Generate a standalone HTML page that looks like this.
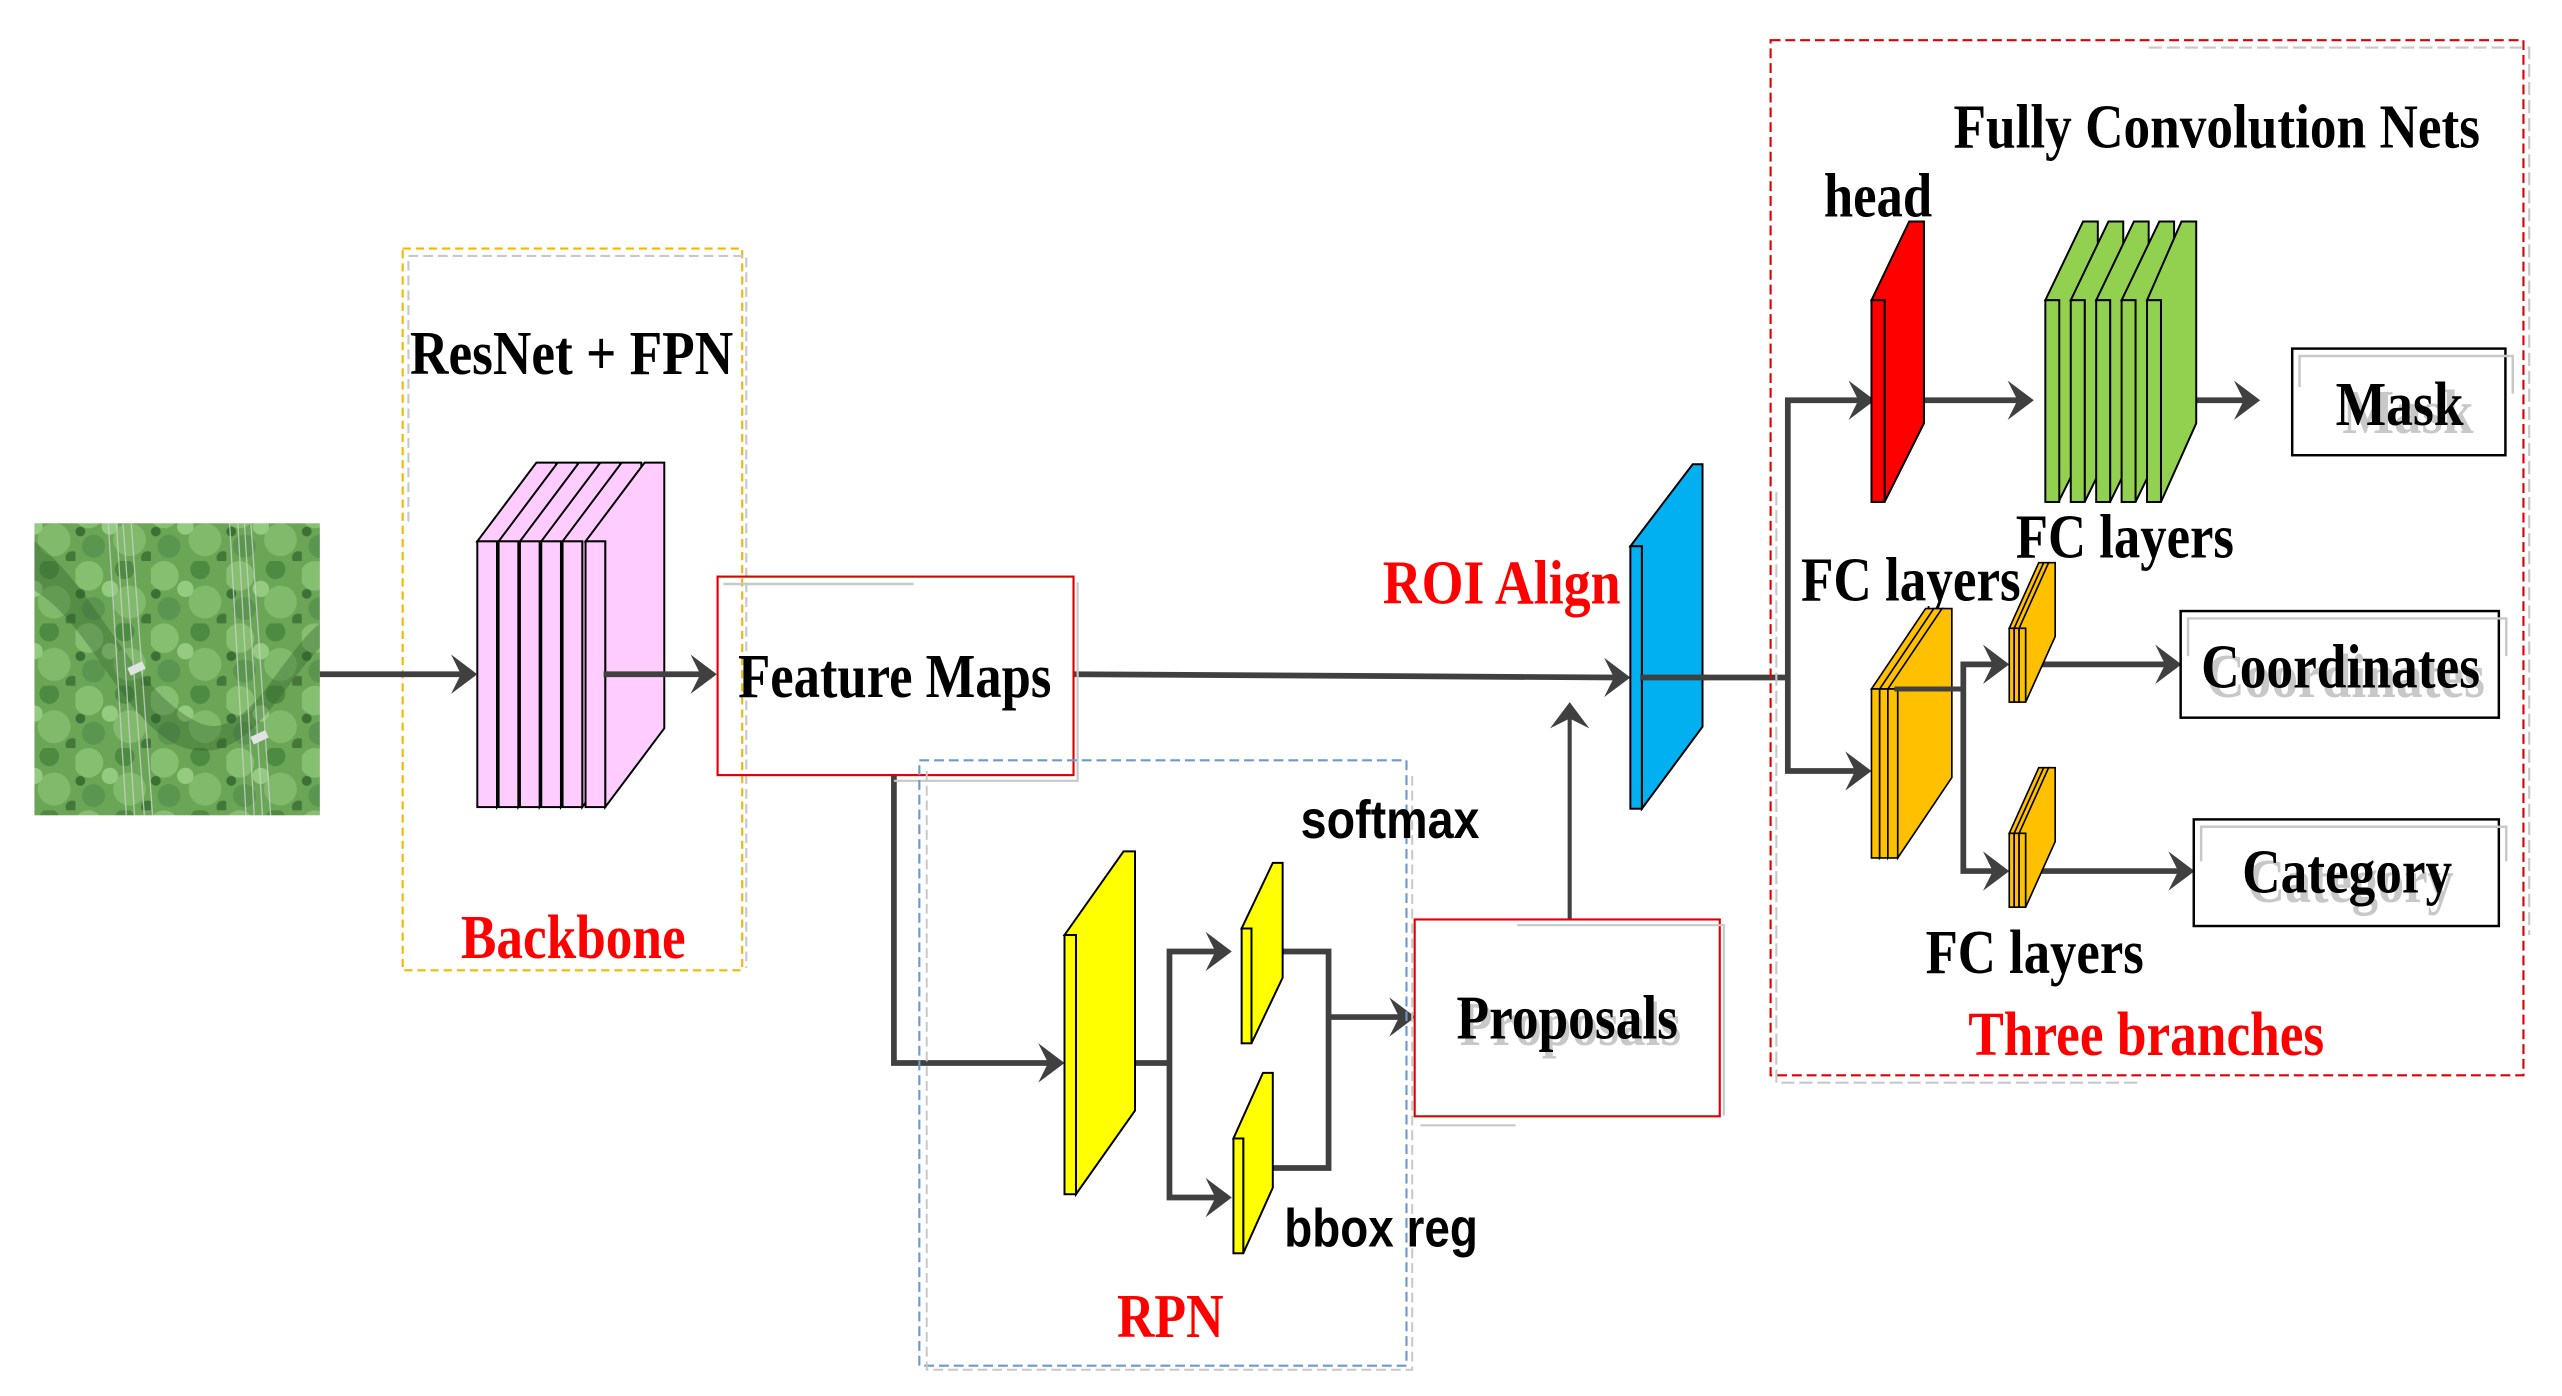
<!DOCTYPE html>
<html><head><meta charset="utf-8"><style>html,body{margin:0;padding:0;background:#fff;overflow:hidden}svg{display:block}</style></head><body>
<svg width="2562" height="1396" viewBox="0 0 1562 851" preserveAspectRatio="none" xmlns="http://www.w3.org/2000/svg">
<defs>
<pattern id="tr" width="46" height="38" patternUnits="userSpaceOnUse">
<rect width="46" height="38" fill="#6aa656"/>
<circle cx="8" cy="9" r="9" fill="#86bf70"/><circle cx="30" cy="5" r="6" fill="#4d8a42"/>
<circle cx="33" cy="25" r="10" fill="#80ba6a"/><circle cx="11" cy="29" r="7" fill="#5b9650"/>
<circle cx="21" cy="17" r="5" fill="#95cb80"/><circle cx="3" cy="20" r="3" fill="#3d7034"/>
<circle cx="44" cy="36" r="4" fill="#44783a"/>
</pattern>
<path id="ah" d="M0,0 L-16,-12 L-10,0 L-16,12 Z" fill="#404040"/>
</defs>
<g font-family="'Liberation Serif',serif" font-weight="bold">
<rect x="21" y="319" width="174" height="178" fill="url(#tr)"/>
<path d="M21,330 C60,360 80,420 120,440 C150,455 170,400 195,380 L195,395 C170,420 150,470 110,455 C75,440 55,380 21,360 Z" fill="#2f5f2a" opacity="0.35"/>
<g stroke="#c8d0c8" stroke-width="0.8" fill="none" opacity="0.85">
<line x1="66" y1="319" x2="77" y2="497"/><line x1="71" y1="319" x2="82" y2="497"/><line x1="75" y1="319" x2="88" y2="497"/><line x1="80" y1="319" x2="93" y2="497"/>
<line x1="140" y1="319" x2="150" y2="497"/><line x1="145" y1="319" x2="155" y2="497"/><line x1="149" y1="319" x2="160" y2="497"/><line x1="153" y1="319" x2="165" y2="497"/>
</g>
<rect x="78" y="405" width="10" height="5" fill="#e0e4e0" transform="rotate(-25 83 407)"/>
<rect x="153" y="447" width="10" height="5" fill="#e0e4e0" transform="rotate(-25 158 449)"/>

<rect x="245.5" y="151.5" width="207" height="440" fill="none" stroke="#f5b800" stroke-width="1.3" stroke-dasharray="5,3"/>
<path d="M249,318 V156 H455 V590" fill="none" stroke="#c8c8c8" stroke-width="1.3" stroke-dasharray="6,3"/>
<text x="250" y="228" font-size="38" textLength="197" lengthAdjust="spacingAndGlyphs">ResNet + FPN</text>
<text x="281" y="584" font-size="38" fill="#ff0000" textLength="137" lengthAdjust="spacingAndGlyphs">Backbone</text>
<g fill="#ffccff" stroke="#000" stroke-width="1.2">
<polygon points="291,330 327,282 339,282 339,444 303,492 303,330"/><rect x="291" y="330" width="12" height="162"/>
<polygon points="304,330 340,282 352,282 352,444 316,492 316,330"/><rect x="304" y="330" width="12" height="162"/>
<polygon points="317,330 353,282 365,282 365,444 329,492 329,330"/><rect x="317" y="330" width="12" height="162"/>
<polygon points="330,330 366,282 378,282 378,444 342,492 342,330"/><rect x="330" y="330" width="12" height="162"/>
<polygon points="343,330 379,282 391,282 391,444 355,492 355,330"/><rect x="343" y="330" width="12" height="162"/>
<polygon points="357,330 393,282 405,282 405,444 369,492 369,330"/><rect x="357" y="330" width="12" height="162"/>
</g>
<g stroke="#404040" stroke-width="3.5" fill="none">
<line x1="195" y1="411" x2="282" y2="411"/><line x1="368" y1="411" x2="428" y2="411"/>
<line x1="654" y1="411" x2="985" y2="413"/>
<line x1="1000" y1="413" x2="1090" y2="413"/>
<polyline points="1134,244 1090,244 1090,470 1132,470"/>
<line x1="1173" y1="244" x2="1232" y2="244"/>
<line x1="1318" y1="244" x2="1370" y2="244"/>
<polyline points="1216,405 1197,405 1197,531 1216,531"/>
<line x1="1233" y1="405" x2="1321" y2="405"/>
<line x1="1233" y1="531" x2="1329" y2="531"/>
<polyline points="545,472 545,648 640,648"/>
<line x1="692" y1="648" x2="713" y2="648"/>
<polyline points="742,580 713,580 713,730 742,730"/>
<polyline points="782,580 810,580 810,712 776,712"/>
<line x1="810" y1="620" x2="854" y2="620"/>
</g>
<line x1="957" y1="560" x2="957" y2="436" stroke="#404040" stroke-width="2.5"/>
<use href="#ah" transform="translate(291,411)"/>
<use href="#ah" transform="translate(437,411)"/>
<use href="#ah" transform="translate(994,413)"/>
<use href="#ah" transform="translate(1143,244)"/>
<use href="#ah" transform="translate(1141,470)"/>
<use href="#ah" transform="translate(1240,244)"/>
<use href="#ah" transform="translate(1378,244)"/>
<use href="#ah" transform="translate(1225,405)"/>
<use href="#ah" transform="translate(1225,531)"/>
<use href="#ah" transform="translate(1330,405)"/>
<use href="#ah" transform="translate(1338,531)"/>
<use href="#ah" transform="translate(649,648)"/>
<use href="#ah" transform="translate(751,580)"/>
<use href="#ah" transform="translate(751,730)"/>
<use href="#ah" transform="translate(863,620)"/>
<use href="#ah" transform="translate(957,428) rotate(-90)"/>

<rect x="437.5" y="351.5" width="217" height="121" fill="none" stroke="#e00000" stroke-width="1.3"/>
<line x1="441" y1="356" x2="557" y2="356" stroke="#c8c8c8" stroke-width="1.5"/>
<path d="M545,476 H657 V355" fill="none" stroke="#c8c8c8" stroke-width="1.3"/>
<text x="450" y="425" font-size="38" textLength="191" lengthAdjust="spacingAndGlyphs">Feature Maps</text>

<rect x="560.5" y="463.5" width="297" height="369" fill="none" stroke="#6a9ad0" stroke-width="1.3" stroke-dasharray="6,3"/>
<path d="M565,470 V835 H861 V470" fill="none" stroke="#c8c8c8" stroke-width="1.2" stroke-dasharray="6,3"/>
<text x="681" y="815" font-size="38" fill="#ff0000" textLength="65" lengthAdjust="spacingAndGlyphs">RPN</text>
<g fill="#ffff00" stroke="#000" stroke-width="1.2">
<polygon points="649,570 685,519 692,519 692,677 656,728 656,570"/><rect x="649" y="570" width="7" height="158"/>
<polygon points="757,566 776,526 782,526 782,596 763,636 763,566"/><rect x="757" y="566" width="6" height="70"/>
<polygon points="752,694 770,654 776,654 776,724 758,764 758,694"/><rect x="752" y="694" width="6" height="70"/>
</g>
<text x="793" y="511" font-family="'Liberation Sans',sans-serif" font-size="33" textLength="109" lengthAdjust="spacingAndGlyphs">softmax</text>
<text x="783" y="760" font-family="'Liberation Sans',sans-serif" font-size="33" textLength="118" lengthAdjust="spacingAndGlyphs">bbox reg</text>

<rect x="862.5" y="560.5" width="186" height="120" fill="none" stroke="#e00000" stroke-width="1.3"/>
<path d="M925,564 H1051 V680" fill="none" stroke="#c8c8c8" stroke-width="1.3"/>
<line x1="866" y1="686" x2="924" y2="686" stroke="#c8c8c8" stroke-width="1.3"/>
<text x="890" y="637" font-size="38" fill="#c8c8c8" textLength="135" lengthAdjust="spacingAndGlyphs">Proposals</text>
<text x="888" y="633" font-size="38" textLength="135" lengthAdjust="spacingAndGlyphs">Proposals</text>

<text x="843" y="368" font-size="38" fill="#ff0000" textLength="145" lengthAdjust="spacingAndGlyphs">ROI Align</text>
<g fill="#00b0f0" stroke="#000" stroke-width="1.2">
<polygon points="994,333 1032,283 1038,283 1038,443 1001,493 1001,333"/><rect x="994" y="333" width="7" height="160"/>
</g>

<rect x="1079.5" y="24.5" width="459" height="631" fill="none" stroke="#e00000" stroke-width="1.3" stroke-dasharray="6,3"/>
<path d="M1310,29 H1542 V570" fill="none" stroke="#c8c8c8" stroke-width="1.3" stroke-dasharray="8,3"/>
<path d="M1083,300 V660 H1305" fill="none" stroke="#c8c8c8" stroke-width="1.3" stroke-dasharray="8,3"/>
<text x="1191" y="90" font-size="38" textLength="321" lengthAdjust="spacingAndGlyphs">Fully Convolution Nets</text>
<text x="1112" y="132" font-size="38" textLength="66" lengthAdjust="spacingAndGlyphs">head</text>
<text x="1229" y="340" font-size="38" textLength="133" lengthAdjust="spacingAndGlyphs">FC layers</text>
<text x="1098" y="366" font-size="38" textLength="134" lengthAdjust="spacingAndGlyphs">FC layers</text>
<text x="1174" y="593" font-size="38" textLength="133" lengthAdjust="spacingAndGlyphs">FC layers</text>
<text x="1200" y="643" font-size="38" fill="#ff0000" textLength="217" lengthAdjust="spacingAndGlyphs">Three branches</text>

<g fill="#ff0000" stroke="#000" stroke-width="1.2">
<polygon points="1141,183 1164,135 1173,135 1173,258 1149,306 1149,183"/><rect x="1141" y="183" width="8" height="123"/>
</g>
<g fill="#92d050" stroke="#000" stroke-width="1.2">
<polygon points="1247,183 1270,135 1279,135 1279,258 1255,306 1255,183"/><rect x="1247" y="183" width="8.5" height="123"/>
<polygon points="1262.5,183 1285.5,135 1294.5,135 1294.5,258 1271,306 1271,183"/><rect x="1262.5" y="183" width="8.5" height="123"/>
<polygon points="1278,183 1301,135 1310,135 1310,258 1286.5,306 1286.5,183"/><rect x="1278" y="183" width="8.5" height="123"/>
<polygon points="1293.5,183 1316.5,135 1325.5,135 1325.5,258 1302,306 1302,183"/><rect x="1293.5" y="183" width="8.5" height="123"/>
<polygon points="1309,183 1330,135 1339,135 1339,258 1317.5,306 1317.5,183"/><rect x="1309" y="183" width="8.5" height="123"/>
</g>
<g fill="#ffc000" stroke="#000" stroke-width="1">
<polygon points="1141,420 1174,371 1180,371 1180,474 1146,523 1146,420"/><rect x="1141" y="420" width="5" height="103"/>
<polygon points="1146,420 1179,371 1185,371 1185,474 1151,523 1151,420"/><rect x="1146" y="420" width="5" height="103"/>
<polygon points="1151,420 1184,371 1190,371 1190,474 1157,523 1157,420"/><rect x="1151" y="420" width="6" height="103"/>
<polygon points="1225,383 1243,343 1246,343 1246,388 1228,428 1228,383"/><rect x="1225" y="383" width="3" height="45"/>
<polygon points="1228,383 1246,343 1249,343 1249,388 1231,428 1231,383"/><rect x="1228" y="383" width="3" height="45"/>
<polygon points="1231,383 1249,343 1253,343 1253,388 1235,428 1235,383"/><rect x="1231" y="383" width="4" height="45"/>
<polygon points="1225,508 1243,468 1246,468 1246,513 1228,553 1228,508"/><rect x="1225" y="508" width="3" height="45"/>
<polygon points="1228,508 1246,468 1249,468 1249,513 1231,553 1231,508"/><rect x="1228" y="508" width="3" height="45"/>
<polygon points="1231,508 1249,468 1253,468 1253,513 1235,553 1235,508"/><rect x="1231" y="508" width="4" height="45"/>
</g>
<line x1="1155" y1="420" x2="1197" y2="420" stroke="#404040" stroke-width="3"/>
<line x1="1000" y1="413" x2="1040" y2="413" stroke="#404040" stroke-width="3.5"/>

<rect x="1397.5" y="212.5" width="130" height="65" fill="none" stroke="#000" stroke-width="1.5"/>
<path d="M1402,236 V217 H1532 V240" fill="none" stroke="#c8c8c8" stroke-width="1.5"/>
<text x="1428" y="264" font-size="38" fill="#c8c8c8" textLength="80" lengthAdjust="spacingAndGlyphs">Mask</text>
<text x="1424" y="259" font-size="38" textLength="78" lengthAdjust="spacingAndGlyphs">Mask</text>
<rect x="1329.5" y="372.5" width="194" height="65" fill="none" stroke="#000" stroke-width="1.5"/>
<path d="M1334,400 V377 H1528 V400" fill="none" stroke="#c8c8c8" stroke-width="1.5"/>
<text x="1345" y="425" font-size="38" fill="#c8c8c8" textLength="170" lengthAdjust="spacingAndGlyphs">Coordinates</text>
<text x="1342" y="419" font-size="38" textLength="170" lengthAdjust="spacingAndGlyphs">Coordinates</text>
<rect x="1337.5" y="499.5" width="186" height="65" fill="none" stroke="#000" stroke-width="1.5"/>
<path d="M1342,525 V504 H1528 V525" fill="none" stroke="#c8c8c8" stroke-width="1.5"/>
<text x="1370" y="550" font-size="38" fill="#c8c8c8" textLength="126" lengthAdjust="spacingAndGlyphs">Category</text>
<text x="1367" y="544" font-size="38" textLength="128" lengthAdjust="spacingAndGlyphs">Category</text>
</g>
</svg>
</body></html>
